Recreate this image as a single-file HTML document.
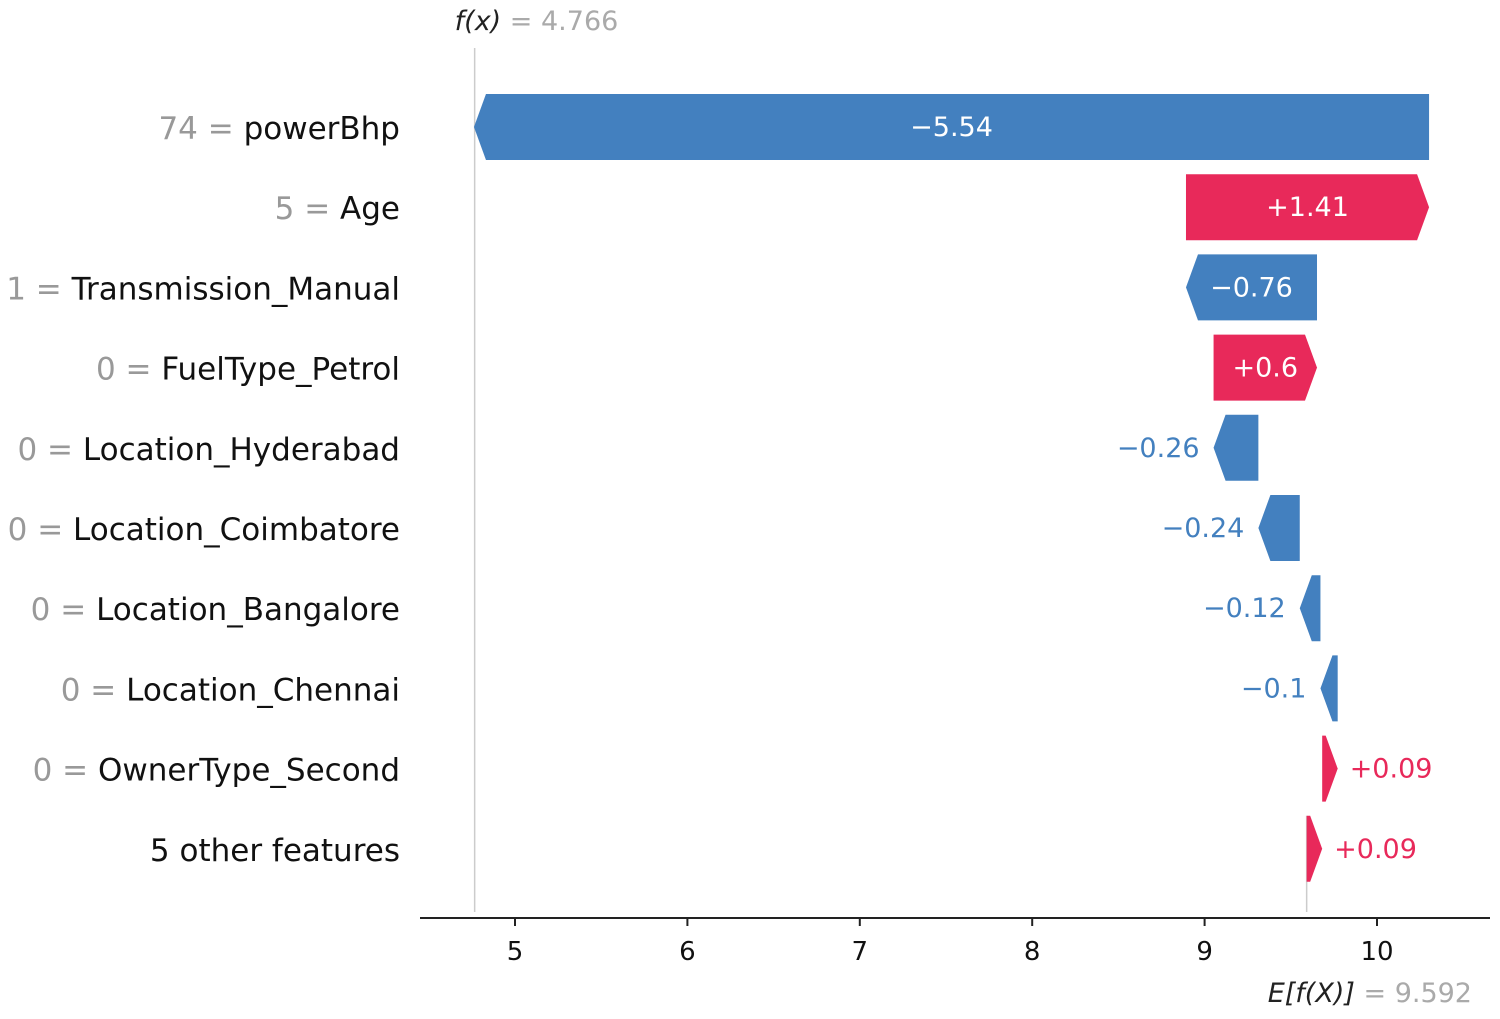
<!DOCTYPE html>
<html><head><meta charset="utf-8"><style>
body{margin:0;background:#fff;width:1500px;height:1014px;overflow:hidden}
svg text{font-family:"DejaVu Sans","Liberation Sans",sans-serif}
</style></head><body>
<svg id="chart" width="1500" height="1014" xmlns="http://www.w3.org/2000/svg"></svg>
<script>
const featureNames = ["powerBhp","Age","Transmission_Manual","FuelType_Petrol","Location_Hyderabad","Location_Coimbatore","Location_Bangalore","Location_Chennai","OwnerType_Second","5 other features"];
const featureValues = ["74","5","1","0","0","0","0","0","0",""];
const shapValues = [-5.54,1.41,-0.76,0.6,-0.26,-0.24,-0.12,-0.1,0.09,0.09];
const shapLabels = ["\u22125.54","+1.41","\u22120.76","+0.6","\u22120.26","\u22120.24","\u22120.12","\u22120.1","+0.09","+0.09"];
const baseValue = 9.592;
const fxValue = 4.766;
const xTicks = [5,6,7,8,9,10];

const svg = document.getElementById('chart');
const NS = 'http://www.w3.org/2000/svg';
const X = v => 515 + (v - 5) * 172.4;
const rowY = i => 127 + i * 80.2;
const BLUE = '#4380bf', PINK = '#e8295a';
function mk(tag, attrs, parent) {
  const e = document.createElementNS(NS, tag);
  for (const k in attrs) e.setAttribute(k, attrs[k]);
  (parent || svg).appendChild(e);
  return e;
}
const starts = new Array(shapValues.length);
let cum = baseValue;
for (let i = shapValues.length - 1; i >= 0; i--) { starts[i] = cum; cum += shapValues[i]; }

const fl = mk('line', {x1: X(fxValue), x2: X(fxValue), y1: 48, y2: 912, stroke: '#cccccc', 'stroke-width': 1.5});


const el = mk('line', {x1: X(baseValue), x2: X(baseValue), y1: rowY(9) - 33, y2: 912, stroke: '#cccccc', 'stroke-width': 1.5});



for (let i = 0; i < shapValues.length; i++) {
  const v = shapValues[i], s = starts[i], e = s + v;
  const y = rowY(i), h = 66;
  const x0 = X(Math.min(s, e)), x1 = X(Math.max(s, e));
  const w = x1 - x0;
  const head = Math.min(12, w);
  let pts;
  if (v > 0) pts = [[x0, y - h/2], [x1 - head, y - h/2], [x1, y], [x1 - head, y + h/2], [x0, y + h/2]];
  else pts = [[x1, y - h/2], [x0 + head, y - h/2], [x0, y], [x0 + head, y + h/2], [x1, y + h/2]];
  const p = mk('polygon', {points: pts.map(q => q.join(',')).join(' '), fill: v > 0 ? PINK : BLUE});
  
  
  let tx, anchor, col;
  if (w > 90) { tx = (x0 + x1) / 2; anchor = 'middle'; col = '#fff'; }
  else if (v < 0) { tx = x0 - 14; anchor = 'end'; col = BLUE; }
  else { tx = x1 + 12; anchor = 'start'; col = PINK; }
  const t = mk('text', {x: tx, y: y + 9, 'text-anchor': anchor, fill: col, 'font-size': 27});
  t.textContent = shapLabels[i];
  
  
  const fl2 = mk('text', {x: 400, y: y + 12, 'text-anchor': 'end', 'font-size': 31, fill: '#111'});
  
  
  if (featureValues[i] !== '') {
    const ts = mk('tspan', {fill: '#999'}, fl2);
    ts.textContent = featureValues[i] + ' = ';
  }
  const tn = mk('tspan', {}, fl2);
  tn.textContent = featureNames[i];
}

const ax = mk('line', {x1: 420, x2: 1490, y1: 918, y2: 918, stroke: '#222', 'stroke-width': 2});


xTicks.forEach(tv => {
  const tk = mk('line', {x1: X(tv), x2: X(tv), y1: 918, y2: 926, stroke: '#222', 'stroke-width': 2});
  
  
  const tl = mk('text', {x: X(tv), y: 960, 'text-anchor': 'middle', 'font-size': 26, fill: '#111'});
  tl.textContent = String(tv);
  
  
});

const ft = mk('text', {x: X(fxValue) - 20, y: 30, 'font-size': 27, fill: '#222'});


const f1 = mk('tspan', {'font-style': 'italic'}, ft); f1.textContent = 'f(x)';
const f2 = mk('tspan', {fill: '#aaa'}, ft); f2.textContent = ' = ' + fxValue.toFixed(3);

const et = mk('text', {x: 1472, y: 1002, 'text-anchor': 'end', 'font-size': 27, fill: '#222'});


const e1 = mk('tspan', {'font-style': 'italic'}, et); e1.textContent = 'E[f(X)]';
const e2 = mk('tspan', {fill: '#aaa'}, et); e2.textContent = ' = ' + baseValue.toFixed(3);
</script>
</body></html>
